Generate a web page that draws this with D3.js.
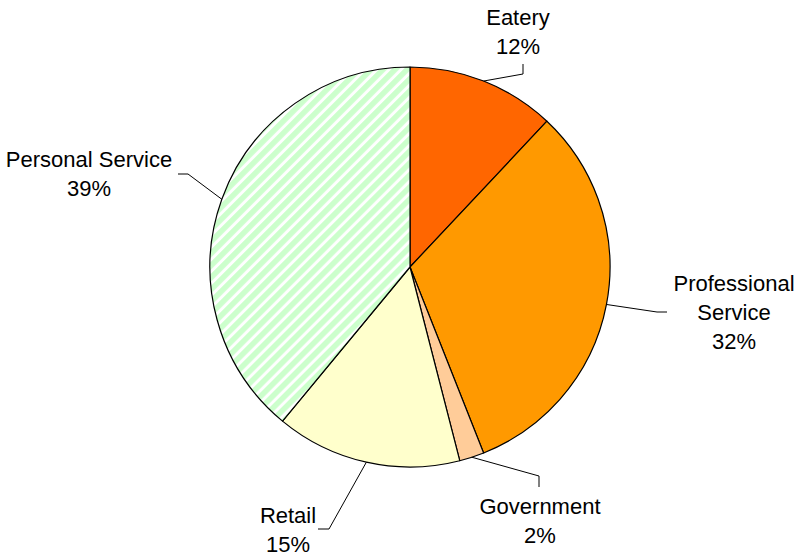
<!DOCTYPE html>
<html>
<head>
<meta charset="utf-8">
<script src="https://cdn.jsdelivr.net/npm/d3@7"></script>
<style>
  html, body { margin: 0; padding: 0; background: #fff; }
  svg { display: block; }
  text { font-family: "Liberation Sans", Arial, sans-serif; font-size: 22px; fill: #000; }
</style>
</head>
<body>
<svg id="chart" width="795" height="558"></svg>
<script>
// Data
const categories = ["Eatery", "Professional Service", "Government", "Retail", "Personal Service"];
const values = [12, 32, 2, 15, 39];
const percentLabels = ["12%", "32%", "2%", "15%", "39%"];
const labelLines = [["Eatery"], ["Professional", "Service"], ["Government"], ["Retail"], ["Personal Service"]];
const fills = ["#ff6600", "#ff9900", "#ffcc99", "#ffffcc", "url(#hatch)"];

// Layout (label placement)
const cx = 410, cy = 267, R = 200;
const labelPos = [
  { x: 518, y: 25, elbow: [[523, 74], [523, 64]] },
  { x: 734, y: 291, elbow: [[657, 312], [667, 312]] },
  { x: 540, y: 514, elbow: [[539, 476], [539, 487]] },
  { x: 288, y: 523, elbow: [[329, 529], [318, 529]] },
  { x: 89, y: 167, elbow: [[188, 174], [178, 174]] }
];
const lineH = 29;

const svg = d3.select("#chart");
const defs = svg.append("defs");
const pat = defs.append("pattern")
  .attr("id", "hatch")
  .attr("patternUnits", "userSpaceOnUse")
  .attr("width", 8.5).attr("height", 8.5)
  .attr("patternTransform", "rotate(45)");
pat.append("rect").attr("width", 8.5).attr("height", 8.5).attr("fill", "#ffffff");
pat.append("rect").attr("x", 0).attr("width", 5.5).attr("height", 8.5).attr("fill", "#ccffcc");

const pie = d3.pie().sort(null).value(d => d).startAngle(0).endAngle(2 * Math.PI);
const arcs = pie(values);
const arc = d3.arc().innerRadius(0).outerRadius(R);

const g = svg.append("g").attr("transform", `translate(${cx},${cy})`);
g.selectAll("path.slice").data(arcs).enter().append("path")
  .attr("class", "slice")
  .attr("d", arc)
  .attr("fill", (d, i) => fills[i])
  .attr("stroke", "#000")
  .attr("stroke-width", 1.2)
  .attr("stroke-linejoin", "round");

// Leader lines
arcs.forEach((d, i) => {
  const mid = (d.startAngle + d.endAngle) / 2;
  const sx = cx + R * Math.sin(mid), sy = cy - R * Math.cos(mid);
  const pts = [[sx, sy]].concat(labelPos[i].elbow);
  svg.append("path")
    .attr("d", d3.line()(pts))
    .attr("fill", "none")
    .attr("stroke", "#000")
    .attr("stroke-width", 1);
});

// Labels
categories.forEach((c, i) => {
  const lines = labelLines[i].concat([percentLabels[i]]);
  const t = svg.append("text")
    .attr("text-anchor", "middle")
    .attr("x", labelPos[i].x)
    .attr("y", labelPos[i].y);
  lines.forEach((ln, j) => {
    t.append("tspan").attr("x", labelPos[i].x).attr("y", labelPos[i].y + j * lineH).text(ln);
  });
});
</script>
</body>
</html>
